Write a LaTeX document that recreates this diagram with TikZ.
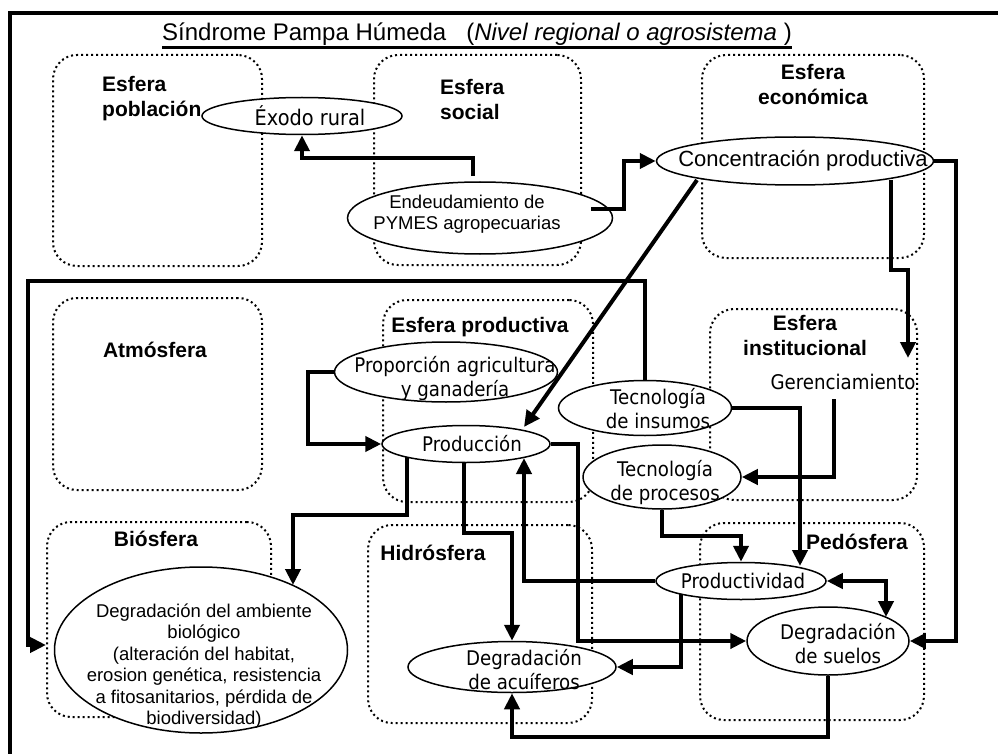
\documentclass[tikz,border=0pt]{standalone}
\usepackage{fontspec}
\setmainfont{Liberation Sans}
\newfontfamily\tah[FakeStretch=0.9]{DejaVu Sans}
\usetikzlibrary{arrows.meta,shapes.geometric,calc}
\begin{document}
\begin{tikzpicture}[x=1pt,y=-1pt,
  sphere/.style={draw, line width=2pt, dash pattern=on 2pt off 3pt, rounded corners=24pt, inner sep=0pt},
  slabel/.style={font=\fontsize{21}{25}\selectfont\bfseries, inner sep=0pt},
  ell/.style={draw, ellipse, fill=white, line width=1.5pt, inner sep=0pt},
  tt/.style={font=\tah\fontsize{20.2}{24}\selectfont, inner sep=0pt, align=center},
  ar/.style={font=\fontsize{18.5}{21}\selectfont, inner sep=0pt, align=center},
  conn/.style={line width=4pt, -{Triangle[length=16pt,width=15pt]}},
  conn2/.style={line width=4pt, {Triangle[length=16pt,width=15pt]}-{Triangle[length=16pt,width=15pt]}},
  ]
\useasboundingbox (0,0) rectangle (998,754);

% sphere boxes
\node[sphere, minimum width=209pt, minimum height=211pt] (pobbox) at (157.5,160.5) {};
\node[sphere, minimum width=207pt, minimum height=210pt] (socbox) at (477.5,160) {};
\node[sphere, minimum width=222pt, minimum height=203pt] (ecobox) at (813,156.5) {};
\node[sphere, minimum width=209pt, minimum height=192pt] (atmbox) at (157.5,394) {};
\node[sphere, minimum width=210pt, minimum height=202pt] (probox) at (488,401) {};
\node[sphere, minimum width=207pt, minimum height=191pt] (insbox) at (813.5,404.5) {};
\node[sphere, minimum width=224pt, minimum height=195pt] (biobox) at (159,619.5) {};
\node[sphere, minimum width=224pt, minimum height=198pt] (hidbox) at (480,624) {};
\node[sphere, minimum width=224pt, minimum height=197pt] (pedbox) at (812,621.5) {};

% sphere labels
\node[slabel, align=left, anchor=west] (pobl) at (102,99) {Esfera\\población};
\node[slabel, align=left, anchor=west] (socl) at (440,99) {Esfera\\social};
\node[slabel, align=center] (ecol) at (813,84) {Esfera\\económica};
\node[slabel] (atml) at (155,350) {Atmósfera};
\node[slabel] (prol) at (480,327) {Esfera productiva};
\node[slabel, align=center] (insl) at (805,335) {Esfera\\institucional};
\node[slabel] (biol) at (156,539) {Biósfera};
\node[slabel] (hidl) at (433,553) {Hidrósfera};
\node[slabel] (pedl) at (857,542) {Pedósfera};

% ellipses
\node[ell, minimum width=200pt, minimum height=37pt] (exodo) at (302,116) {};
\node[ell, minimum width=265pt, minimum height=72pt] (endeu) at (480,218) {};
\node[ell, minimum width=277pt, minimum height=48pt] (conc) at (795,161) {};
\node[ell, minimum width=223pt, minimum height=60pt] (prop) at (446,372) {};
\node[ell, minimum width=168pt, minimum height=37pt] (prod) at (466,444) {};
\node[ell, minimum width=173pt, minimum height=55pt] (tins) at (645,408) {};
\node[ell, minimum width=158pt, minimum height=64pt] (tproc) at (662,477) {};
\node[ell, minimum width=170pt, minimum height=37pt] (prodtv) at (741,581) {};
\node[ell, minimum width=162pt, minimum height=68pt] (dsuel) at (828,641) {};
\node[ell, minimum width=208pt, minimum height=51pt] (dacu) at (512,667) {};
\node[ell, minimum width=293pt, minimum height=166pt] (dbio) at (201,650) {};

% ellipse texts
\node[tt, font=\tah\fontsize{21.5}{24}\selectfont] (exodot) at ([xshift=8pt]exodo.center) {Éxodo rural};
\node[ar] (endeut) at ([xshift=-13pt,yshift=4pt]endeu.center) {Endeudamiento de\\PYMES agropecuarias};
\node[ar, font=\fontsize{22}{26}\selectfont] (conct) at ([xshift=8pt]conc.center) {Concentración productiva};
\node[tt] (propt) at ([xshift=9pt,yshift=-7pt]prop.center) {Proporción agricultura\\y ganadería};
\node[tt] (prodt) at ([xshift=6pt]prod.center) {Producción};
\node[tt] (tinst) at ([xshift=13pt,yshift=-1pt]tins.center) {Tecnología\\de insumos};
\node[tt] (tproct) at ([xshift=3pt,yshift=-6pt]tproc.center) {Tecnología\\de procesos};
\node[tt] (prodtvt) at ([xshift=2pt]prodtv.center) {Productividad};
\node[tt] (dsuelt) at ([xshift=10pt,yshift=-3pt]dsuel.center) {Degradación\\de suelos};
\node[tt] (dacut) at ([xshift=12pt,yshift=-3pt]dacu.center) {Degradación\\de acuíferos};
\node[ar, font=\fontsize{18.5}{21.5}\selectfont] (dbiot) at ([xshift=3pt,yshift=-16pt]dbio.center) {Degradación del ambiente\\biológico\\(alteración del habitat,\\erosion genética, resistencia\\a fitosanitarios, pérdida de\\biodiversidad)};
\node[tt] (geren) at (843,382) {Gerenciamiento};

% connectors
\draw[conn] ([xshift=-7pt,yshift=5pt]endeu.north) |- ($(exodo.south)+(0,22.5)$) -- (exodo.south);
\draw[conn] ($(endeu.center)+(111,-9)$) -| ($(conc.west)+(-32,0)$) -- (conc.west);
\draw[conn] ($(conc.center)+(-98,19)$) -- ($(prod.center)+(58,-17)$);
\draw[conn] ($(conc.center)+(96,19)$) -- ++(0,90) -| ($(insbox.north east)+(-10,50)$);
\draw[conn] (conc.east) -- ++(22,0) |- (dsuel.east);
\draw[conn] (prop.west) -- ++(-26,0) |- (prod.west);
\draw[conn] (tins.north) -- ++(0,-98.5) -| ($(biobox.west)+(-18,25.5)$) -- ($(biobox.west)+(0,25.5)$);
\draw[conn] (tins.east) -| ($(prodtv.center)+(59,-15)$);
\draw[conn] ($(geren.south)+(-9,9)$) |- (tproc.east);
\draw[conn] (tproc.south) -- ++(0,26) -| (prodtv.north);
\draw[conn2] (prodtv.east) -| ($(dsuel.center)+(58,-24)$);
\draw[conn] (prodtv.west) -| ($(prod.center)+(58,14)$);
\draw[conn] ($(prodtv.center)+(-60,13)$) |- (dacu.east);
\draw[conn] ($(prod.center)+(-59,13)$) |- ($(dbio.center)+(92,-135)$) -- ($(dbio.center)+(92,-65)$);
\draw[conn] ($(prod.center)+(-2,18)$) |- ($(dacu.north)+(0,-108)$) -- (dacu.north);
\draw[conn] (prod.east) -- ++(27,0) |- (dsuel.west);
\draw[conn] (dsuel.south) -- ++(0,61) -| (dacu.south);

% title and frame
\node[anchor=base west, inner sep=0pt, font=\fontsize{24}{28}\selectfont] (title) at (162,41) {Síndrome Pampa Húmeda\ \ \ (\textit{Nivel regional o agrosistema}\ )};
\draw[line width=3.5pt] ([yshift=-1.5pt]title.south west) -- ([yshift=-1.5pt]title.south east);
\draw[line width=4pt] (10,756) -- (10,13) -- (1000,13);
\end{tikzpicture}
\end{document}
